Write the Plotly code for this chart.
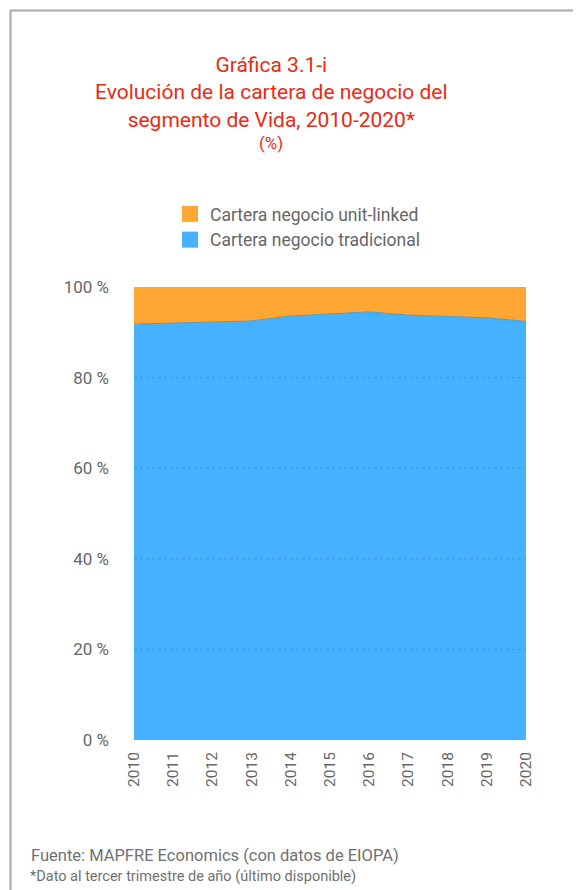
import plotly.graph_objects as go

years = [2010, 2011, 2012, 2013, 2014, 2015, 2016, 2017, 2018, 2019, 2020]
tradicional = [91.8, 92.0, 92.2, 92.5, 93.6, 94.1, 94.5, 93.8, 93.5, 93.2, 92.4]
unit_linked = [8.2, 8.0, 7.8, 7.5, 6.4, 5.9, 5.5, 6.2, 6.5, 6.8, 7.6]
y_ticks = [0, 20, 40, 60, 80, 100]
y_ticktext = ["0 %", "20 %", "40 %", "60 %", "80 %", "100 %"]

OFF = 8  # page body margin
W, H = 581 - OFF, 890 - OFF
L, T = 134 - OFF, 287 - OFF
R = W - (526 - OFF)
B = H - (740 - OFF)
PW, PH = W - L - R, H - T - B

BLUE = "#45B1FF"
ORANGE = "#FFA633"


def px(x):
    return (x - OFF - L) / PW


def py(y):
    return (H - B - (y - OFF)) / PH


fig = go.Figure()
fig.add_trace(go.Scatter(
    x=years, y=tradicional, name="Cartera negocio tradicional",
    stackgroup="one", mode="lines", showlegend=False,
    line=dict(color="#3C9FE6", width=1),
    fillcolor=BLUE,
))
fig.add_trace(go.Scatter(
    x=years, y=unit_linked, name="Cartera negocio unit-linked",
    stackgroup="one", mode="lines", showlegend=False,
    line=dict(color=ORANGE, width=0),
    fillcolor=ORANGE,
))
# legend swatches
fig.add_trace(go.Scatter(
    x=[None], y=[None], mode="markers", name="Cartera negocio unit-linked",
    marker=dict(symbol="square", size=17, color=ORANGE),
))
fig.add_trace(go.Scatter(
    x=[None], y=[None], mode="markers", name="Cartera negocio tradicional",
    marker=dict(symbol="square", size=17, color=BLUE),
))

# dotted gridlines over the areas
for v in y_ticks[1:-1]:
    fig.add_shape(type="line", xref="paper", yref="y", x0=0, x1=1, y0=v, y1=v,
                  layer="above", line=dict(color="rgba(30,100,160,0.3)", width=1, dash="dot"))

title_font = "Roboto, Arial, sans-serif"
fig.add_annotation(
    text="Gráfica 3.1-i<br>Evolución de la cartera de negocio del<br>segmento de Vida, 2010-2020*",
    xref="paper", yref="paper", x=px(271), y=py(51), xanchor="center", yanchor="top",
    showarrow=False, align="center",
    font=dict(family=title_font, size=21, color="#EA2A12"),
)
fig.add_annotation(
    text="(%)", xref="paper", yref="paper", x=px(271), y=py(131),
    xanchor="center", yanchor="top", showarrow=False,
    font=dict(family=title_font, size=17, color="#EA2A12"),
)
fig.add_annotation(
    text="Fuente: MAPFRE Economics (con datos de EIOPA)",
    xref="paper", yref="paper", x=px(29), y=py(844), xanchor="left", yanchor="top",
    showarrow=False, font=dict(family="Roboto, sans-serif", size=16.5, color="#707070"),
)
fig.add_annotation(
    text="*Dato al tercer trimestre de año (último disponible)",
    xref="paper", yref="paper", x=px(28), y=py(866), xanchor="left", yanchor="top",
    showarrow=False, font=dict(family="Roboto, sans-serif", size=14.5, color="#707070"),
)

# frame
fig.add_shape(type="line", xref="paper", yref="paper", x0=px(10), x1=px(620),
              y0=py(10.5), y1=py(10.5), line=dict(color="#A8A8A8", width=2))
fig.add_shape(type="line", xref="paper", yref="paper", x0=px(10.5), x1=px(10.5),
              y0=py(10), y1=py(920), line=dict(color="#A8A8A8", width=2))

fig.update_layout(
    width=W, height=H,
    margin=dict(l=L, r=R, t=T, b=B),
    paper_bgcolor="white", plot_bgcolor="white",
    showlegend=True,
    legend=dict(
        x=px(170), y=py(196), xanchor="left", yanchor="top",
        traceorder="normal",
        font=dict(family="Roboto, sans-serif", size=17.5, color="#666666"),
        itemwidth=30, tracegroupgap=0, bgcolor="rgba(0,0,0,0)",
    ),
    font=dict(family="Roboto, sans-serif", color="#666666"),
)
fig.update_xaxes(
    range=[2010, 2020], tickvals=years, ticktext=[str(y) for y in years],
    tickangle=-90, showgrid=False, zeroline=False, showline=False,
    tickfont=dict(size=15.5, color="#666666"), ticks="", ticklabelstandoff=8,
)
fig.update_yaxes(
    range=[0, 100], tickvals=y_ticks, ticktext=y_ticktext,
    showgrid=False, zeroline=False, showline=False,
    tickfont=dict(size=17, color="#666666"), ticks="", ticklabelstandoff=24,
)

fig.write_html("out.html")
